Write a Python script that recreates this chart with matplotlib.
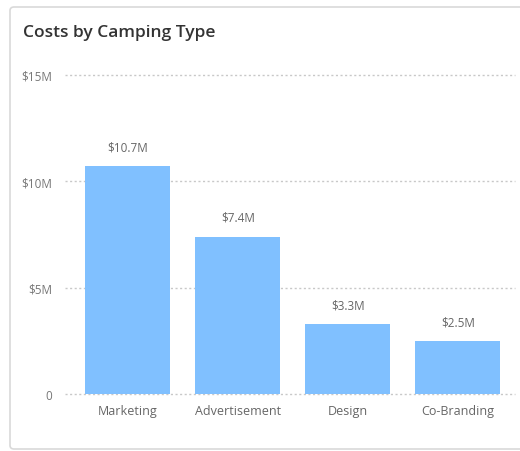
import matplotlib.pyplot as plt
from matplotlib.patches import FancyBboxPatch
from matplotlib.ticker import FuncFormatter

categories = ['Marketing', 'Advertisement', 'Design', 'Co-Branding']
costs = [10.7, 7.4, 3.3, 2.5]  # millions
value_labels = ['$10.7M', '$7.4M', '$3.3M', '$2.5M']
y_ticks = [0, 5, 10, 15]

plt.rcParams['font.family'] = ['Open Sans', 'DejaVu Sans']

fig = plt.figure(figsize=(5.2, 4.52), dpi=100)

# card background with a light border
card = FancyBboxPatch((10 / 520, 2 / 452), 1.2, 442 / 452,
                      boxstyle='round,pad=0,rounding_size=0.008',
                      transform=fig.transFigure, facecolor='white',
                      edgecolor='#d9d9d9', linewidth=1.2, zorder=-5)
fig.patches.append(card)

fig.text(23 / 520, 1 - 33 / 452, 'Costs by Camping Type', fontsize=12.5,
         fontweight='semibold', color='#333333', va='center', ha='left')

ax = fig.add_axes([65 / 520, 1 - 395 / 452, 450 / 520, 319 / 452])
ax.set_facecolor('none')

x = range(len(categories))
bars = ax.bar(x, costs, width=0.77, color='#80c0ff', zorder=2)

for b, lab in zip(bars, value_labels):
    ax.text(b.get_x() + b.get_width() / 2, b.get_height() + 0.6, lab,
            ha='center', va='bottom', fontsize=8.5, color='#666666')

ax.set_xlim(-0.57, 3.52)
ax.set_ylim(0, 15)
ax.set_xticks(list(x))
ax.set_xticklabels(categories, fontsize=9, color='#666666')
ax.set_yticks(y_ticks)
ax.yaxis.set_major_formatter(FuncFormatter(lambda v, p: '0' if v == 0 else f'${v:.0f}M'))
ax.tick_params(axis='y', labelsize=8.5, labelcolor='#777777', length=0, pad=9)
ax.tick_params(axis='x', length=0, pad=7)

ax.grid(axis='y', linestyle=(0, (1.5, 1.8)), color='#c8c8c8', linewidth=1, zorder=1)
for gl in ax.get_ygridlines():
    gl.set_clip_on(False)
for s in ax.spines.values():
    s.set_visible(False)

fig.savefig('out.png', dpi=100)
